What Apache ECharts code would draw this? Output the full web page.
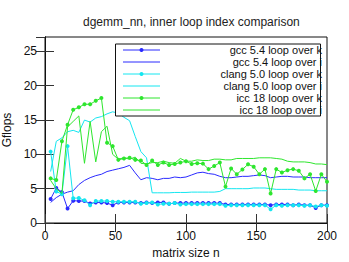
<!DOCTYPE html>
<html>
<head>
<meta charset="utf-8">
<script src="https://cdn.jsdelivr.net/npm/echarts@6/dist/echarts.min.js"></script>
<style>html,body{margin:0;padding:0;background:#fff}#c{width:349px;height:262px}</style>
</head>
<body>
<div id="c"></div>
<script>
const sizes = [4,8,12,16,20,24,28,32,36,40,44,48,52,56,60,64,68,72,76,80,84,88,92,96,100,104,108,112,116,120,124,128,132,136,140,144,148,152,156,160,164,168,172,176,180,184,188,192,196,200];
const gccK = [3.5,5.1,4.5,2.1,3.25,3.2,3.2,2.85,3.0,3.0,2.9,2.6,3.0,3.0,3.0,3.0,2.9,3.0,2.9,3.0,3.0,2.8,2.9,2.9,2.9,2.9,2.9,2.9,2.9,2.9,2.9,2.7,2.7,2.7,2.7,2.7,2.7,2.7,2.7,2.6,2.7,2.7,2.7,2.6,2.7,2.6,2.6,2.2,2.6,2.6];
const gccI = [3.0,3.7,4.2,4.5,4.7,5.6,6.2,6.6,6.9,7.1,7.5,7.7,7.9,8.1,8.4,7.3,6.3,6.6,6.5,6.3,6.5,6.5,6.7,6.6,6.7,7.0,7.3,7.4,7.2,7.1,6.8,6.6,6.6,6.7,6.8,6.8,6.9,7.0,6.9,6.6,6.7,6.8,6.8,6.7,6.7,6.7,6.6,6.6,6.6,6.6];
const clangK = [10.4,4.6,4.2,11.2,3.6,3.65,3.3,2.6,3.2,3.2,3.2,3.1,3.1,3.1,3.1,3.1,2.8,2.9,3.0,2.7,2.8,2.8,2.9,2.7,2.75,2.75,2.75,2.75,2.75,2.75,2.75,2.5,2.6,2.6,2.6,2.6,2.6,2.6,2.6,2.0,2.6,2.5,2.6,2.6,2.6,2.5,2.6,2.4,2.6,2.5];
const clangI = [7.5,11.9,12.4,13.3,13.5,13.2,15.0,14.7,15.3,15.5,15.9,16.2,16.0,15.4,14.9,12.6,10.4,9.5,4.4,4.4,4.4,4.4,4.45,4.45,4.45,4.5,4.5,4.5,4.5,4.5,4.6,5.0,5.0,5.0,5.0,5.0,5.1,5.1,5.1,5.0,4.9,4.9,4.9,4.9,4.8,4.8,4.8,4.7,4.7,4.7];
const iccK = [6.5,6.25,11.9,14.3,16.5,16.85,17.3,17.3,17.8,18.2,11.7,11.2,9.2,9.4,9.5,9.2,9.1,8.45,9.1,8.45,8.8,8.45,8.6,8.8,9.0,8.6,8.7,8.65,7.85,8.3,8.8,5.3,7.95,7.1,7.8,8.55,8.2,7.1,7.85,4.3,7.85,7.35,7.7,7.85,7.6,6.5,7.1,4.65,7.1,6.0];
const iccI = [6.2,5.0,4.3,14.0,14.8,15.6,8.7,14.8,8.9,13.3,14.1,10.0,9.3,9.5,9.3,9.6,8.7,8.6,8.8,8.8,9.0,8.8,8.7,9.4,9.0,9.0,9.2,9.1,9.1,9.3,9.3,9.2,9.2,9.4,9.4,9.4,9.4,9.5,9.5,9.5,9.4,9.3,9.0,8.9,8.9,8.9,8.8,8.6,8.6,8.5];
const seriesNames = ['gcc 5.4 loop over k','gcc 5.4 loop over i','clang 5.0 loop over k','clang 5.0 loop over i','icc 18 loop over k','icc 18 loop over i'];
const xTicks = [0,50,100,150,200];
const yTicks = [0,5,10,15,20,25];

const BLUE = '#2a2aff', CYAN = '#14e6f0', GREEN = '#2ee62e';
const colors = [BLUE, BLUE, CYAN, CYAN, GREEN, GREEN];
const dotted = [true, false, true, false, true, false];
const values = [gccK, gccI, clangK, clangI, iccK, iccI];
const FONT = 'Liberation Sans, Arial, sans-serif';

const chart = echarts.init(document.getElementById('c'), null, {renderer: 'svg', width: 349, height: 262});

const series = values.map((vals, i) => ({
  name: seriesNames[i],
  type: 'line',
  data: sizes.map((n, j) => [n, vals[j]]),
  symbol: dotted[i] ? 'circle' : 'none',
  showSymbol: dotted[i],
  symbolSize: 4,
  itemStyle: {color: colors[i]},
  lineStyle: {color: colors[i], width: 1},
  emphasis: {disabled: true},
  animation: false,
  z: 2 + i * 0.01
}));

// legend drawn as graphics
const legend = [];
const LX0 = 115.5, LY0 = 44, LW = 205, LH = 72;
legend.push({type: 'rect', shape: {x: LX0, y: LY0, width: LW, height: LH}, style: {fill: '#fff', stroke: 'none'}, z: 50});
seriesNames.forEach((name, i) => {
  const y = 50 + i * 12;
  legend.push({type: 'line', shape: {x1: 123, y1: y, x2: 160, y2: y}, style: {stroke: colors[i], lineWidth: 1}, z: 51});
  if (dotted[i]) legend.push({type: 'circle', shape: {cx: 141.5, cy: y, r: 2}, style: {fill: colors[i]}, z: 52});
  legend.push({type: 'text', x: 322, y: y, style: {text: name, font: '11px ' + FONT, fill: '#111', align: 'right', verticalAlign: 'middle', lineHeight: 11}, z: 53});
});
legend.push({type: 'rect', shape: {x: LX0, y: LY0, width: LW, height: LH}, style: {fill: 'none', stroke: '#111', lineWidth: 1}, z: 60});

const yFmt = v => (yTicks.indexOf(Math.round(v * 1000) / 1000) >= 0 ? String(v) : '');
const xFmt = v => (xTicks.indexOf(v) >= 0 ? String(v) : '');

chart.setOption({
  animation: false,
  backgroundColor: '#fff',
  title: {
    text: 'dgemm_nn, inner loop index comparison',
    left: 78, top: 11,
    textStyle: {fontSize: 12, fontWeight: 'normal', color: '#222', fontFamily: FONT}
  },
  grid: {left: 45, right: 22, top: 37, bottom: 39, show: true, borderColor: '#111', borderWidth: 1, backgroundColor: 'transparent', containLabel: false, outerBoundsMode: 'none'},
  xAxis: [
    {type: 'value', position: 'bottom', min: 0, max: 200, interval: 50,
     axisLine: {show: true, lineStyle: {color: '#111'}},
     axisTick: {show: true, inside: true, length: 9, lineStyle: {color: '#333'}},
     axisLabel: {fontSize: 12, color: '#111', margin: 7, fontFamily: FONT, formatter: xFmt},
     splitLine: {show: false},
     name: 'matrix size n', nameLocation: 'middle', nameGap: 22,
     nameTextStyle: {fontSize: 12, color: '#111', fontFamily: FONT}},
    {type: 'value', position: 'top', min: 0, max: 200, interval: 50,
     axisLine: {show: true, lineStyle: {color: '#111'}},
     axisTick: {show: true, inside: true, length: 9, lineStyle: {color: '#333'}},
     axisLabel: {show: false}, splitLine: {show: false}}
  ],
  yAxis: [
    {type: 'value', position: 'left', min: 0, max: 27.1, interval: 5,
     axisLine: {show: true, lineStyle: {color: '#111'}},
     axisTick: {show: true, inside: true, length: 9, lineStyle: {color: '#333'}},
     axisLabel: {fontSize: 12, color: '#111', margin: 8, fontFamily: FONT, formatter: yFmt, showMaxLabel: false},
     splitLine: {show: false},
     name: 'Gflops', nameLocation: 'middle', nameGap: 29, nameRotate: 90,
     nameTextStyle: {fontSize: 12, color: '#111', fontFamily: FONT}},
    {type: 'value', position: 'right', min: 0, max: 27.1, interval: 5,
     axisLine: {show: true, lineStyle: {color: '#111'}},
     axisTick: {show: true, inside: true, length: 9, lineStyle: {color: '#333'}},
     axisLabel: {show: false}, splitLine: {show: false}}
  ],
  series: series,
  graphic: legend
});
</script>
</body>
</html>
